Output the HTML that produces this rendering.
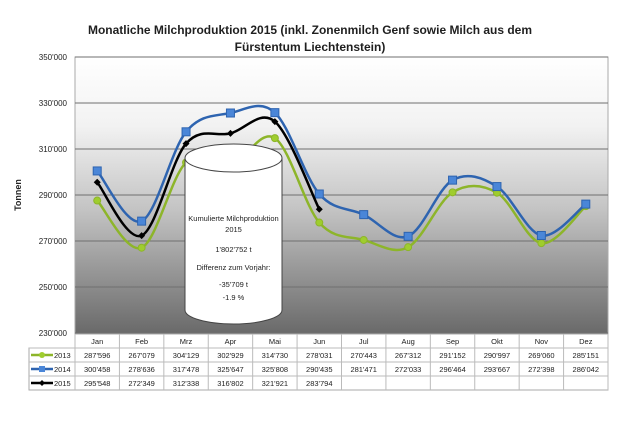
<!DOCTYPE html>
<html><head><meta charset="utf-8"><style>
body{margin:0;background:#fff;width:620px;height:420px;overflow:hidden;font-family:"Liberation Sans",sans-serif}
</style></head><body>
<svg id="c" width="620" height="420" xmlns="http://www.w3.org/2000/svg">
<defs>
<linearGradient id="bg" x1="0" y1="0" x2="0" y2="1">
<stop offset="0" stop-color="#ffffff"/><stop offset="0.25" stop-color="#f2f2f2"/><stop offset="0.55" stop-color="#c4c4c4"/><stop offset="1" stop-color="#6a6a6a"/>
</linearGradient>
</defs>
<text x="310" y="34" text-anchor="middle" font-size="12" font-weight="bold" fill="#1f1f1f" textLength="444" lengthAdjust="spacingAndGlyphs">Monatliche Milchproduktion 2015 (inkl. Zonenmilch Genf sowie Milch aus dem</text>
<text x="310" y="51" text-anchor="middle" font-size="12" font-weight="bold" fill="#1f1f1f">Fürstentum Liechtenstein)</text>
<text transform="translate(21,195) rotate(-90)" text-anchor="middle" font-size="9" font-weight="bold" fill="#222">Tonnen</text>
<rect x="75" y="57" width="533" height="276" fill="url(#bg)" stroke="#aaa"/>
<g id="grid"></g><g id="yl"></g><g id="series"></g><g id="tbl"></g>
<g>
<path d="M185,158 L185,310 A48.5,14 0 0 0 282,310 L282,158" fill="#fff" stroke="#444" stroke-width="1"/>
<ellipse cx="233.5" cy="158" rx="48.5" ry="14" fill="#fff" stroke="#444"/>
<g font-size="7.5" fill="#222" text-anchor="middle">
<text x="233.5" y="221">Kumulierte Milchproduktion</text>
<text x="233.5" y="232">2015</text>
<text x="233.5" y="252">1'802'752 t</text>
<text x="233.5" y="270">Differenz zum Vorjahr:</text>
<text x="233.5" y="287">-35'709 t</text>
<text x="233.5" y="300">-1.9 %</text>
</g></g>
</svg>
<script>
const months=["Jan","Feb","Mrz","Apr","Mai","Jun","Jul","Aug","Sep","Okt","Nov","Dez"];
const s2013=[287596,267079,304129,302929,314730,278031,270443,267312,291152,290997,269060,285151];
const s2014=[300458,278636,317478,325647,325808,290435,281471,272033,296464,293667,272398,286042];
const s2015=[295548,272349,312338,316802,321921,283794];
const yTicks=[230000,250000,270000,290000,310000,330000,350000];
const NS="http://www.w3.org/2000/svg";
const x0=75,x1=608,yT=57,yB=333,ymin=230000,ymax=350000;
const colW=(x1-x0)/months.length;
const X=i=>x0+colW*(i+0.5);
const Y=v=>yB-(v-ymin)/(ymax-ymin)*(yB-yT);
const fmt=v=>String(v).replace(/\B(?=(\d{3})+(?!\d))/g,"'");
function mk(t,a,p){const e=document.createElementNS(NS,t);for(const k in a)e.setAttribute(k,a[k]);p.appendChild(e);return e;}
const grid=document.getElementById('grid'),yl=document.getElementById('yl');
yTicks.forEach(v=>{
 const l=mk('line',{x1:x0,x2:x1,y1:Y(v),y2:Y(v),stroke:'#6f6f6f','stroke-width':1},grid);
 
 
 const t=mk('text',{x:67,y:Y(v)+3,'text-anchor':'end','font-size':8,fill:'#222'},yl);
 t.textContent=fmt(v);
 
 
});
function path(vals){
 const p=vals.map((v,i)=>[X(i),Y(v)]);let d=`M${p[0][0]},${p[0][1]}`;
 for(let i=0;i<p.length-1;i++){const a=p[i-1]||p[i],b=p[i],c=p[i+1],e=p[i+2]||c;const k=0.5/3;
  d+=` C${b[0]+(c[0]-a[0])*k},${b[1]+(c[1]-a[1])*k} ${c[0]-(e[0]-b[0])*k},${c[1]-(e[1]-b[1])*k} ${c[0]},${c[1]}`;}
 return d;}
const sg=document.getElementById('series');
const defs=[[s2013,'#8db52a','circle','series-2013'],[s2014,'#2e64b0','square','series-2014'],[s2015,'#000','diamond','series-2015']];
defs.forEach(([vals,col,m,name])=>{
 const g=mk('g',{},sg);
 
 
 mk('path',{d:path(vals),fill:'none',stroke:col,'stroke-width':2.5},g);
 vals.forEach((v,i)=>{let e;
  if(m=='circle')e=mk('circle',{cx:X(i),cy:Y(v),r:3.5,fill:'#9fcd2e',stroke:'#8db52a'},g);
  else if(m=='square')e=mk('rect',{x:X(i)-4,y:Y(v)-4,width:8,height:8,fill:'#4a86d8',stroke:'#2e64b0'},g);
  else e=mk('path',{d:`M${X(i)},${Y(v)-3.5}l3.5,3.5l-3.5,3.5l-3.5,-3.5z`,fill:'#000'},g);
  
  
 });
});
const tb=document.getElementById('tbl');const rowH=14,tTop=334,lx=29;
mk('rect',{x:lx,y:tTop+rowH,width:x1-lx,height:rowH*3,fill:'#fff',stroke:'#aaa'},tb);
mk('rect',{x:x0,y:tTop,width:x1-x0,height:rowH,fill:'#fff',stroke:'#aaa'},tb);
for(let r=1;r<=3;r++)mk('line',{x1:lx,x2:x1,y1:tTop+rowH*r,y2:tTop+rowH*r,stroke:'#bbb'},tb);
for(let i=0;i<=12;i++)mk('line',{x1:x0+colW*i,x2:x0+colW*i,y1:tTop,y2:tTop+rowH*4,stroke:'#bbb'},tb);
months.forEach((mo,i)=>{const t=mk('text',{x:X(i),y:tTop+10,'text-anchor':'middle','font-size':7.5,fill:'#222'},tb);t.textContent=mo;
 
 });
[[s2013,'2013'],[s2014,'2014'],[s2015,'2015']].forEach(([vals,lab],r)=>{
 const y=tTop+rowH*(r+1)+10,[,col,m]=defs[r];
 const lg=mk('g',{},tb);
 
 
 mk('line',{x1:31,x2:53,y1:y-3,y2:y-3,stroke:col,'stroke-width':2.5},lg);
 if(m=='circle')mk('circle',{cx:42,cy:y-3,r:3,fill:'#9fcd2e'},lg);
 else if(m=='square')mk('rect',{x:39,y:y-6,width:6,height:6,fill:'#4a86d8'},lg);
 else mk('path',{d:`M42,${y-6}l3,3l-3,3l-3,-3z`,fill:'#000'},lg);
 const lt=mk('text',{x:54,y:y,'font-size':7.5,fill:'#222'},lg);lt.textContent=lab;
 vals.forEach((v,i)=>{const t=mk('text',{x:X(i),y:y,'text-anchor':'middle','font-size':7.5,fill:'#222'},tb);t.textContent=fmt(v);
  
  });
});
</script>
</body></html>
